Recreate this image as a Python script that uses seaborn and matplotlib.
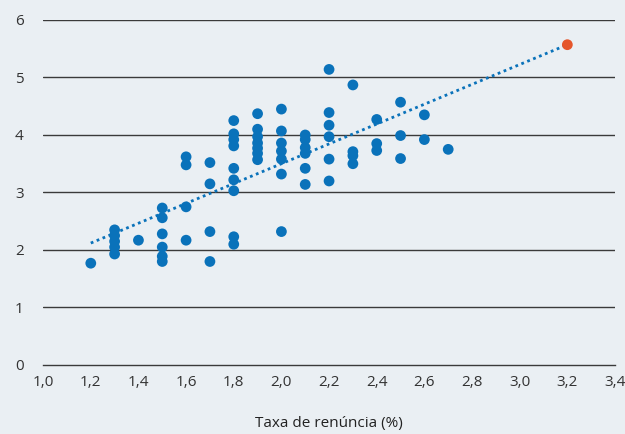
import numpy as np
import pandas as pd
import matplotlib
matplotlib.use("Agg")
import matplotlib.pyplot as plt
import seaborn as sns
from matplotlib.ticker import FuncFormatter

# Data
taxa = [1.2,
        1.3, 1.3, 1.3, 1.3, 1.3,
        1.4,
        1.5, 1.5, 1.5, 1.5, 1.5, 1.5,
        1.6, 1.6, 1.6, 1.6,
        1.7, 1.7, 1.7, 1.7,
        1.8, 1.8, 1.8, 1.8, 1.8, 1.8, 1.8, 1.8, 1.8,
        1.9, 1.9, 1.9, 1.9, 1.9, 1.9, 1.9,
        2.0, 2.0, 2.0, 2.0, 2.0, 2.0, 2.0,
        2.1, 2.1, 2.1, 2.1, 2.1, 2.1,
        2.2, 2.2, 2.2, 2.2, 2.2, 2.2,
        2.3, 2.3, 2.3, 2.3,
        2.4, 2.4, 2.4,
        2.5, 2.5, 2.5,
        2.6, 2.6,
        2.7]
valor = [1.77,
         2.35, 2.25, 2.15, 2.05, 1.93,
         2.17,
         2.73, 2.56, 2.28, 2.05, 1.89, 1.80,
         3.62, 3.48, 2.75, 2.17,
         3.52, 3.15, 2.32, 1.80,
         4.25, 4.02, 3.92, 3.81, 3.42, 3.22, 3.03, 2.23, 2.10,
         4.37, 4.10, 3.97, 3.86, 3.77, 3.68, 3.57,
         4.45, 4.07, 3.86, 3.72, 3.58, 3.32, 2.32,
         4.00, 3.92, 3.78, 3.68, 3.42, 3.14,
         5.14, 4.39, 4.17, 3.97, 3.58, 3.20,
         4.87, 3.71, 3.64, 3.50,
         4.27, 3.85, 3.73,
         4.57, 3.99, 3.59,
         4.35, 3.92,
         3.75]
destaque_x = [3.2]
destaque_y = [5.57]
tendencia_x = [1.2, 3.2]
tendencia_y = [2.12, 5.57]

bg = "#eaeff3"
azul = "#0a72ba"
laranja = "#e5562b"

sns.set_style("white", {"axes.facecolor": bg, "figure.facecolor": bg})
plt.rcParams["font.family"] = ["Open Sans", "DejaVu Sans"]

df = pd.DataFrame({"taxa": taxa, "valor": valor})
df_dest = pd.DataFrame({"taxa": destaque_x, "valor": destaque_y})
df_tend = pd.DataFrame({"taxa": tendencia_x, "valor": tendencia_y})

fig = plt.figure(figsize=(6.25, 4.34), dpi=100)
ax = fig.add_axes([0.069, 0.159, 0.915, 0.795])

# horizontal gridlines
for v in range(1, 7):
    ax.axhline(v, color="#3a3a3a", lw=1.0, zorder=1)

sns.lineplot(data=df_tend, x="taxa", y="valor", ax=ax, color=azul,
             linestyle=(0, (1, 1.3)), lw=2.0, zorder=2)
sns.scatterplot(data=df, x="taxa", y="valor", ax=ax, color=azul, s=60,
                edgecolor="none", zorder=3, clip_on=False)
sns.scatterplot(data=df_dest, x="taxa", y="valor", ax=ax, color=laranja, s=60,
                edgecolor="none", zorder=3, clip_on=False)

ax.set_xlim(1.0, 3.4)
ax.set_ylim(0, 6)
ax.set_xticks(np.round(np.arange(1.0, 3.41, 0.2), 1))
ax.set_yticks(range(0, 7))
ax.xaxis.set_major_formatter(FuncFormatter(lambda v, p: f"{v:.1f}".replace(".", ",")))

for s in ["top", "right", "left"]:
    ax.spines[s].set_visible(False)
ax.spines["bottom"].set_color("#3a3a3a")
ax.spines["bottom"].set_linewidth(1.0)

ax.tick_params(axis="x", direction="in", length=5, width=1, color="#3a3a3a",
               pad=7, labelsize=11, labelcolor="#333333")
ax.tick_params(axis="y", length=0, pad=14, labelsize=11, labelcolor="#333333")

ax.set_xlabel("Taxa de renúncia (%)", fontsize=11, color="#222222", labelpad=19)
ax.set_ylabel("")

fig.savefig("out.png", dpi=100, facecolor=bg)
